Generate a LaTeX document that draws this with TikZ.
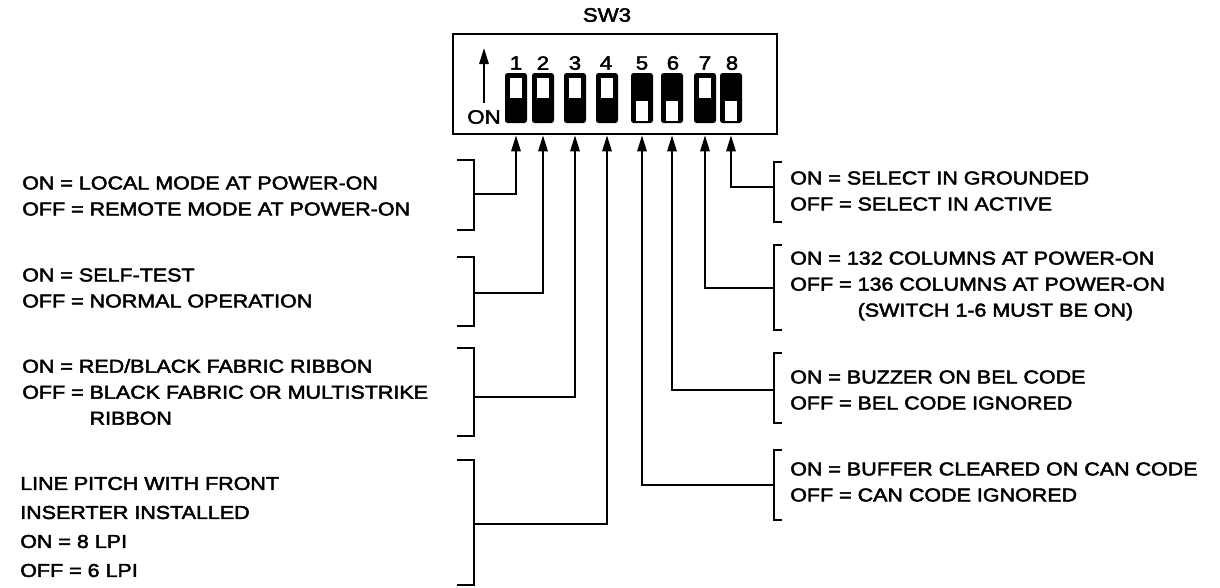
\documentclass[tikz,border=0pt]{standalone}
\usepackage{fontspec}
\setmainfont{Liberation Sans}[FakeStretch=1.15, FakeBold=2.5]
\usetikzlibrary{arrows.meta, positioning}

\begin{document}
\begin{tikzpicture}[
    x=0.75pt, y=-0.75pt,
    swbox/.style={draw, line width=2pt, minimum width=243pt, minimum height=75pt, inner sep=0pt},
    toggle/.style={fill=black, rounded corners=2pt, minimum width=16.5pt, minimum height=37.5pt, inner sep=0pt},
    window/.style={fill=white, minimum width=9pt, minimum height=15pt, inner sep=0pt},
    num/.style={inner sep=0pt, font=\fontsize{14.5}{16}\selectfont},
    note/.style={anchor=west, align=left, inner sep=0pt, font=\fontsize{14}{19.5}\selectfont},
    bracket/.style={line width=1.9pt},
    arrow/.style={line width=1.5pt, -{Triangle[length=12pt, width=7pt]}}
]
\useasboundingbox (0,0) rectangle (1220,587);

% Switch block
\node[num] (title) at (607,15) {SW3};
\node[swbox] (sw) at (615,84) {};
\node[num] (on) at (484,117) {ON};
\coordinate (ontip) at (484,48);
\draw[arrow, shorten <=5pt] (on.north) -- (ontip);

% Toggles (window up = ON)
\node[toggle] (s1) at (516,98) {};
\node[window] at (516,88) {};
\node[toggle] (s2) at (543,98) {};
\node[window] at (543,88) {};
\node[toggle] (s3) at (575,98) {};
\node[window] at (575,88) {};
\node[toggle] (s4) at (607,98) {};
\node[window] at (607,88) {};
\node[toggle] (s5) at (642,98) {};
\node[window] at (642,111) {};
\node[toggle] (s6) at (672,98) {};
\node[window] at (672,111) {};
\node[toggle] (s7) at (705,98) {};
\node[window] at (705,88) {};
\node[toggle] (s8) at (731,98) {};
\node[window] at (731,111) {};

% Numbers
\node[num] (n1) at (516,63) {1};
\node[num] (n2) at (543,63) {2};
\node[num] (n3) at (575,63) {3};
\node[num] (n4) at (606,63) {4};
\node[num] (n5) at (642,63) {5};
\node[num] (n6) at (673,63) {6};
\node[num] (n7) at (705,63) {7};
\node[num] (n8) at (732,63) {8};

% Left descriptions
\node[note] (d1) at (22,196) {ON = LOCAL MODE AT POWER-ON\\OFF = REMOTE MODE AT POWER-ON};
\node[note] (d2) at (22,288) {ON = SELF-TEST\\OFF = NORMAL OPERATION};
\node[note] (d3) at (22,392) {ON = RED/BLACK FABRIC RIBBON\\OFF = BLACK FABRIC OR MULTISTRIKE\\\phantom{OFF = }RIBBON};
\node[note] (d4) at (20,527) {LINE PITCH WITH FRONT\\[2.25pt]INSERTER INSTALLED\\[2.25pt]ON = 8 LPI\\[2.25pt]OFF = 6 LPI};

% Right descriptions
\node[note] (d8) at (790,191) {ON = SELECT IN GROUNDED\\OFF = SELECT IN ACTIVE};
\node[note] (d7) at (790,286) {ON = 132 COLUMNS AT POWER-ON\\OFF = 136 COLUMNS AT POWER-ON\\\phantom{OFF = }(SWITCH 1-6 MUST BE ON)};
\node[note] (d6) at (790,390) {ON = BUZZER ON BEL CODE\\OFF = BEL CODE IGNORED};
\node[note] (d5) at (790,482) {ON = BUFFER CLEARED ON CAN CODE\\OFF = CAN CODE IGNORED};

% Brackets
\draw[bracket] (457,160) -- (474,160) -- (474,230) -- (457,230);
\coordinate (b1) at (474,194);
\draw[bracket] (457,257) -- (474,257) -- (474,326) -- (457,326);
\coordinate (b2) at (474,293);
\draw[bracket] (457,348) -- (474,348) -- (474,436) -- (457,436);
\coordinate (b3) at (474,397);
\draw[bracket] (457,460) -- (474,460) -- (474,585) -- (457,585);
\coordinate (b4) at (474,524);
\draw[bracket] (782,162) -- (774,162) -- (774,222) -- (782,222);
\coordinate (b8) at (774,187);
\draw[bracket] (782,245) -- (774,245) -- (774,330) -- (782,330);
\coordinate (b7) at (774,288);
\draw[bracket] (782,353) -- (774,353) -- (774,423) -- (782,423);
\coordinate (b6) at (774,390);
\draw[bracket] (782,450) -- (774,450) -- (774,520) -- (782,520);
\coordinate (b5) at (774,485);

% Leads up to the switches
\draw[arrow] (b1) -| (s1 |- sw.south);
\draw[arrow] (b2) -| (s2 |- sw.south);
\draw[arrow] (b3) -| (s3 |- sw.south);
\draw[arrow] (b4) -| (s4 |- sw.south);
\draw[arrow] (b5) -| (s5 |- sw.south);
\draw[arrow] (b6) -| (s6 |- sw.south);
\draw[arrow] (b7) -| (s7 |- sw.south);
\draw[arrow] (b8) -| (s8 |- sw.south);

\end{tikzpicture}
\end{document}
